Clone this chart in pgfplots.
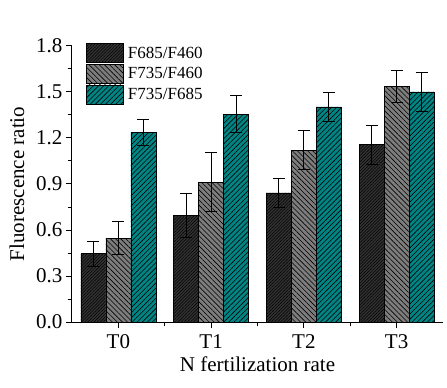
\documentclass[border=0pt]{standalone}
\usepackage{fontspec}
\setmainfont{Liberation Serif}
\usepackage{pgfplots}
\usepackage{pgfplotstable}
\pgfplotsset{compat=1.18}
\usetikzlibrary{patterns.meta}
\definecolor{barteal}{RGB}{0,132,132}
\definecolor{bargray}{RGB}{125,125,125}
\definecolor{bardark}{RGB}{50,50,50}
\pgfplotstableread{
x a ae b be c ce
0 0.445 0.080 0.547 0.110 1.237 0.085
1 0.694 0.145 0.913 0.190 1.354 0.120
2 0.842 0.093 1.121 0.125 1.403 0.093
3 1.156 0.128 1.534 0.104 1.501 0.128
}\data
\begin{document}
\begin{tikzpicture}
\begin{axis}[
  scale only axis, width=371pt, height=276pt,
  ybar=0pt, bar width=25pt,
  xmin=-0.5, xmax=3.5, ymin=0, ymax=1.8,
  xtick={0,1,2,3}, xticklabels={T0,T1,T2,T3},
  minor xtick={0.5,1.5,2.5},
  ytick={0,0.3,0.6,0.9,1.2,1.5,1.8},
  minor ytick={0.15,0.45,0.75,1.05,1.35,1.65},
  axis x line*=bottom, axis y line*=left,
  axis line style={line width=1pt},
  tick align=outside,
  tick style={line width=1pt, black},
  major tick length=6pt, minor tick length=3.5pt,
  /pgf/number format/assume math mode=true,
  yticklabel style={/pgf/number format/fixed, /pgf/number format/fixed zerofill, /pgf/number format/precision=1},
  every tick label/.append style={font=\fontsize{21}{24}\selectfont},
  xticklabel style={yshift=-3pt},
  label style={font=\fontsize{21}{24}\selectfont},
  xlabel={N fertilization rate},
  ylabel={Fluorescence ratio},
  xlabel style={at={(axis description cs:0.5,0)}, anchor=center, yshift=-42pt},
  ylabel style={at={(axis description cs:0,0.5)}, anchor=center, yshift=55pt},
  legend image code/.code={\draw[#1] (0pt,-9.5pt) rectangle (37pt,9.5pt);},
  legend style={at={(axis description cs:0.038,1.01)}, anchor=north west, draw=none, fill=none,
    font=\fontsize{17}{20}\selectfont, row sep=1pt, column sep=3pt, inner sep=0pt,
    nodes={inner sep=1pt}},
  legend cell align=left,
  error bars/error bar style={line width=1pt, black},
  error bars/error mark options={rotate=90, mark size=6pt, line width=1pt, black},
]
\addplot[draw=black, line width=0.6pt, fill=bardark,
  postaction={pattern={Lines[angle=45,distance=2.2pt,line width=0.5pt]}, pattern color=black},
  error bars/.cd, y dir=both, y explicit]
  table[x=x, y=a, y error=ae] {\data};
\addplot[draw=black, line width=0.6pt, fill=bargray,
  postaction={pattern={Lines[angle=-45,distance=3.6pt,line width=0.6pt]}, pattern color=black},
  error bars/.cd, y dir=both, y explicit]
  table[x=x, y=b, y error=be] {\data};
\addplot[draw=black, line width=0.6pt, fill=barteal,
  postaction={pattern={Lines[angle=45,distance=3.6pt,line width=0.6pt]}, pattern color=black},
  error bars/.cd, y dir=both, y explicit]
  table[x=x, y=c, y error=ce] {\data};
\legend{F685/F460, F735/F460, F735/F685}
\end{axis}
\pgfresetboundingbox
\path (current axis.south west) ++(-72pt,-66pt) rectangle ++(447pt,388pt);
\end{tikzpicture}
\end{document}
